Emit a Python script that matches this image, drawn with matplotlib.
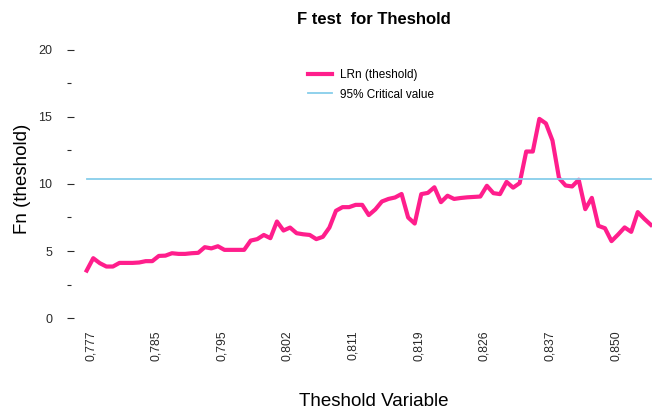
import numpy as np
import matplotlib.pyplot as plt
from matplotlib.transforms import ScaledTranslation

plt.rcParams['font.family'] = ['Liberation Sans', 'DejaVu Sans']

# LRn statistic for each candidate threshold (index along the sorted threshold variable)
lrn = [3.55, 4.47, 4.10, 3.85, 3.85, 4.12, 4.12, 4.12, 4.15, 4.25,
       4.25, 4.64, 4.66, 4.84, 4.79, 4.79, 4.84, 4.87, 5.29, 5.20,
       5.36, 5.09, 5.09, 5.09, 5.09, 5.78, 5.89, 6.20, 5.96, 7.20,
       6.53, 6.75, 6.33, 6.25, 6.20, 5.89, 6.06, 6.75, 8.00, 8.27,
       8.27, 8.44, 8.44, 7.68, 8.10, 8.69, 8.88, 8.99, 9.25, 7.50,
       7.05, 9.24, 9.33, 9.75, 8.64, 9.12, 8.88, 8.95, 9.00, 9.03,
       9.06, 9.86, 9.31, 9.24, 10.15, 9.72, 10.06, 12.41, 12.41, 14.84,
       14.50, 13.23, 10.43, 9.88, 9.81, 10.31, 8.12, 8.96, 6.88, 6.70,
       5.74, 6.23, 6.76, 6.43, 7.90, 7.40, 6.95]
crit = 10.38  # 95% critical value

tick_idx = [0, 10, 20, 30, 40, 50, 60, 70, 80]
tick_lab = ['0,777', '0,785', '0,795', '0,802', '0,811',
            '0,819', '0,826', '0,837', '0,850']
y_major = [0, 5, 10, 15, 20]
y_minor = [2.5, 7.5, 12.5, 17.5]

W, H = 652, 417
fig = plt.figure(figsize=(W/100, H/100), dpi=100)
ax = fig.add_axes([67/W, 88/H, (680-67)/W, 290.2/H])

x = np.arange(len(lrn))
ax.plot(x, lrn, color='#FF1E8C', lw=3, solid_joinstyle='round',
        label='LRn (theshold)')
ax.plot(x, np.full(len(x), crit), color='#87CEEB', lw=1.3,
        label='95% Critical value')

ax.set_xlim(-3.0, 90.44)
ax.set_ylim(-0.8, 20.8)
for s in ax.spines.values():
    s.set_visible(False)

ax.set_yticks(y_major)
ax.set_yticks(y_minor, minor=True)
ax.tick_params(axis='y', which='major', direction='in', length=5.0, width=0.8,
               pad=10.5, labelsize=9, colors='#2a2a2a')
ax.tick_params(axis='y', which='minor', direction='in', length=2.9, width=0.8,
               colors='#2a2a2a')

ax.set_xticks(tick_idx, tick_lab, rotation=90)
ax.tick_params(axis='x', length=0, pad=1.2, labelsize=8.8, colors='#2a2a2a')
off = ScaledTranslation(0.04, 0, fig.dpi_scale_trans)
for lab in ax.get_xticklabels():
    lab.set_transform(lab.get_transform() + off)

ax.set_title('F test  for Theshold', fontsize=12, fontweight='bold', pad=10.4)
ax.set_xlabel('Theshold Variable', fontsize=13.5, va='center')
ax.xaxis.set_label_coords(0.5, -0.25)
ax.set_ylabel('Fn (theshold)', fontsize=13.5, va='center')
ax.yaxis.set_label_coords((22.5-67)/613, 0.517)

ax.legend(loc='upper left', bbox_to_anchor=(307.5/W, 1-69.3/H),
          bbox_transform=fig.transFigure, frameon=False, fontsize=8.5,
          borderpad=0, borderaxespad=0, handlelength=2.1,
          handletextpad=0.64, labelspacing=0.62)

fig.savefig('out.png', dpi=100)
